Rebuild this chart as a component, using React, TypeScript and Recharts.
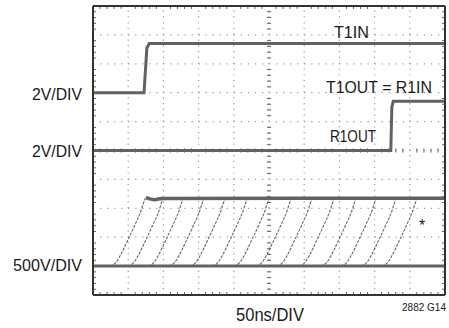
import { LineChart, Line, XAxis, YAxis, ReferenceLine } from 'recharts';

// scope screen: 10 x 10 divisions, x and y in divisions
const T1IN = [
  { x: 0, y: 7.0 },
  { x: 1.45, y: 7.0 },
  { x: 1.53, y: 8.55 },
  { x: 1.6, y: 8.7 },
  { x: 10, y: 8.7 },
];
const R1OUT = [
  { x: 0, y: 5.0 },
  { x: 8.46, y: 5.0 },
  { x: 8.49, y: 6.5 },
  { x: 8.53, y: 6.7 },
  { x: 10, y: 6.7 },
];
const SLEW_LOW = [
  { x: 0, y: 1.0 },
  { x: 10, y: 1.0 },
];
const SLEW_HIGH = [
  { x: 1.5, y: 3.37 },
  { x: 1.75, y: 3.3 },
  { x: 1.95, y: 3.34 },
  { x: 10, y: 3.35 },
];
// time each stacked edge reaches the top level
const EDGE_TIMES = [1.48, 1.99, 2.56, 3.15, 3.75, 4.38, 5.0, 5.63, 6.22, 6.85, 7.47, 8.04, 8.61, 9.2];
// shape of one edge, relative to that time
const EDGE_SHAPE = [
  [-1.0, 1.0],
  [-0.85, 1.1],
  [-0.7, 1.38],
  [-0.5, 1.88],
  [-0.28, 2.45],
  [-0.12, 2.9],
  [-0.03, 3.24],
  [0, 3.34],
];
const DIVS = [1, 2, 3, 4, 5, 6, 7, 8, 9];
const MINOR = Array.from({ length: 49 }, (_, i) => (i + 1) / 5).filter((v) => v % 1 !== 0);

const edges = EDGE_TIMES.map((t) => EDGE_SHAPE.map(([dx, y]) => ({ x: t + dx, y })));

// minor tick marks: on the frame (inward) and across the centre lines
const TX = 0.085; // ~3px in x
const TY = 0.104; // ~3px in y
const tickSegs = MINOR.flatMap((m) => [
  [{ x: m, y: 0 }, { x: m, y: TY }],
  [{ x: m, y: 10 }, { x: m, y: 10 - TY }],
  [{ x: 0, y: m }, { x: TX, y: m }],
  [{ x: 10, y: m }, { x: 10 - TX, y: m }],
  [{ x: 5 - TX * 0.7, y: m }, { x: 5 + TX * 0.7, y: m }],
  [{ x: m, y: 5 - TY * 0.7 }, { x: m, y: 5 + TY * 0.7 }],
]);

const TRACE = '#626262';
const FONT = '"Liberation Sans", Arial, sans-serif';
const FRAME = { stroke: '#333', strokeWidth: 2 };
const blank = () => '';

export default function App() {
  return (
    <div style={{ position: 'fixed', left: 0, top: 0, width: 449, height: 328, background: '#fff' }}>
      <LineChart width={449} height={328} margin={{ top: 6, right: 4, bottom: 33, left: 93 }}>
        <XAxis dataKey="x" type="number" domain={[0, 10]} hide />
        <YAxis type="number" domain={[0, 10]} hide />
        <XAxis xAxisId="bottom" orientation="bottom" type="number" domain={[0, 10]} ticks={[]}
          mirror height={1} tickFormatter={blank} tickLine={false} axisLine={FRAME} />
        <XAxis xAxisId="top" orientation="top" type="number" domain={[0, 10]} ticks={[]}
          mirror height={1} tickFormatter={blank} tickLine={false} axisLine={FRAME} />
        <YAxis yAxisId="left" orientation="left" type="number" domain={[0, 10]} ticks={[]}
          mirror width={1} tickFormatter={blank} tickLine={false} axisLine={FRAME} />
        <YAxis yAxisId="right" orientation="right" type="number" domain={[0, 10]} ticks={[]}
          mirror width={1} tickFormatter={blank} tickLine={false} axisLine={FRAME} />
        {DIVS.map((d) => (
          <ReferenceLine key={'v' + d} x={d} stroke="#999" strokeWidth={1.2} strokeDasharray="1.2 4.58" />
        ))}
        {DIVS.map((d) => (
          <ReferenceLine key={'h' + d} y={d} stroke="#999" strokeWidth={1.2} strokeDasharray="1.2 5.84" />
        ))}
        {tickSegs.map((seg, i) => (
          <ReferenceLine key={'t' + i} segment={seg} stroke="#666" strokeWidth={1} />
        ))}
        {edges.map((pts, i) => (
          <Line key={'e' + i} data={pts} dataKey="y" type="monotone" stroke="#666" strokeWidth={1.1}
            strokeDasharray="3 1.2" dot={false} isAnimationActive={false} />
        ))}
        <Line data={SLEW_LOW} dataKey="y" type="linear" stroke={TRACE} strokeWidth={3} dot={false} isAnimationActive={false} />
        <Line data={SLEW_HIGH} dataKey="y" type="monotone" stroke={TRACE} strokeWidth={3.5} dot={false} isAnimationActive={false} />
        <Line data={T1IN} dataKey="y" type="linear" stroke={TRACE} strokeWidth={3} dot={false} isAnimationActive={false} />
        <Line data={R1OUT} dataKey="y" type="linear" stroke={TRACE} strokeWidth={3} dot={false} isAnimationActive={false} />
      </LineChart>
      <svg width={449} height={328} style={{ position: 'absolute', left: 0, top: 0, pointerEvents: 'none' }}
        fontFamily={FONT} fill="#1a1a1a">
        <text x={82} y={100} fontSize={17} textAnchor="end" textLength={50} lengthAdjust="spacingAndGlyphs">2V/DIV</text>
        <text x={82} y={157} fontSize={17} textAnchor="end" textLength={50} lengthAdjust="spacingAndGlyphs">2V/DIV</text>
        <text x={82} y={271} fontSize={17} textAnchor="end" textLength={69} lengthAdjust="spacingAndGlyphs">500V/DIV</text>
        <text x={334} y={38} fontSize={17} textLength={35} lengthAdjust="spacingAndGlyphs">T1IN</text>
        <text x={326} y={93} fontSize={17} textLength={106} lengthAdjust="spacingAndGlyphs">T1OUT = R1IN</text>
        <text x={330} y={142} fontSize={17} textLength={46} lengthAdjust="spacingAndGlyphs">R1OUT</text>
        <text x={422} y={231} fontSize={16} textAnchor="middle">*</text>
        <text x={236} y={321} fontSize={18} textLength={68} lengthAdjust="spacingAndGlyphs">50ns/DIV</text>
        <text x={446} y={311} fontSize={10} textAnchor="end">2882 G14</text>
      </svg>
    </div>
  );
}
